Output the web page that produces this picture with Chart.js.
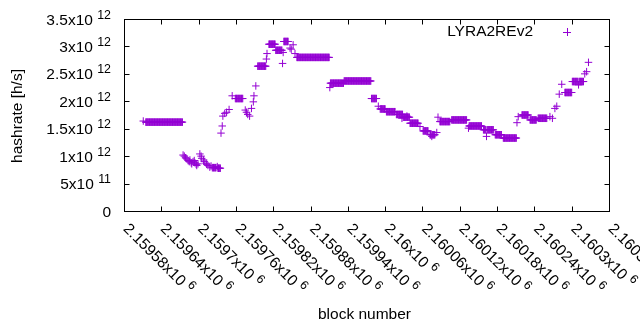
<!DOCTYPE html>
<html>
<head>
<meta charset="utf-8">
<title>LYRA2REv2 hashrate</title>
<script src="https://cdn.jsdelivr.net/npm/chart.js@4.4.1/dist/chart.umd.min.js"></script>
<style>
    html, body { margin: 0; padding: 0; background: #fff; }
    #chart { display: block; }
</style>
</head>
<body>
<canvas id="chart" width="640" height="330"></canvas>
<script>
"use strict";

// Runs of consecutive blocks that share one hashrate reading; a lone block has start == end.
const runStart = [
    2159611, 2159615,
    2159675, 2159677, 2159679, 2159681, 2159683, 2159685, 2159686, 2159688, 2159689, 2159691,
    2159693, 2159694, 2159696, 2159697, 2159699, 2159702, 2159704, 2159705, 2159708, 2159709,
    2159712, 2159713, 2159715, 2159718, 2159720, 2159722, 2159730, 2159731,
    2159736, 2159738, 2159739, 2159742, 2159745, 2159749, 2159754, 2159759,
    2159775, 2159777, 2159779, 2159782, 2159785, 2159788, 2159789, 2159792, 2159795,
    2159809, 2159810, 2159813, 2159824, 2159835, 2159836, 2159837,
    2159847, 2159849, 2159852, 2159855, 2159858,
    2159911, 2159912, 2159934,
    2159978, 2159989, 2159992, 2160002, 2160018, 2160027, 2160029, 2160035, 2160040,
    2160056, 2160061, 2160072, 2160075, 2160076, 2160083,
    2160085, 2160088, 2160107, 2160134, 2160135, 2160158, 2160163, 2160164, 2160177, 2160190,
    2160212, 2160214, 2160220, 2160233, 2160246, 2160265, 2160269,
    2160273, 2160276, 2160280, 2160284, 2160289, 2160301, 2160311, 2160312, 2160321, 2160324, 2160327
];
const runEnd = [
    2159611, 2159674,
    2159675, 2159677, 2159679, 2159681, 2159683, 2159685, 2159686, 2159688, 2159689, 2159691,
    2159693, 2159694, 2159696, 2159697, 2159699, 2159702, 2159704, 2159705, 2159708, 2159709,
    2159712, 2159713, 2159715, 2159718, 2159720, 2159728, 2159730, 2159735,
    2159736, 2159738, 2159739, 2159742, 2159745, 2159749, 2159754, 2159771,
    2159775, 2159777, 2159779, 2159782, 2159785, 2159788, 2159789, 2159792, 2159808,
    2159809, 2159810, 2159823, 2159834, 2159835, 2159836, 2159844,
    2159847, 2159849, 2159852, 2159855, 2159910,
    2159911, 2159933, 2159977,
    2159986, 2159989, 2160000, 2160016, 2160028, 2160027, 2160039, 2160035, 2160053,
    2160056, 2160069, 2160074, 2160075, 2160080, 2160083,
    2160085, 2160104, 2160131, 2160134, 2160155, 2160162, 2160163, 2160174, 2160187, 2160211,
    2160212, 2160214, 2160230, 2160243, 2160260, 2160265, 2160269,
    2160273, 2160276, 2160280, 2160284, 2160300, 2160310, 2160311, 2160319, 2160321, 2160324, 2160327
];
const runValue = [
    1.64e12, 1.62e12,
    1.02e12, 1.00e12, 0.97e12, 0.95e12, 0.92e12, 0.90e12, 0.93e12, 0.88e12, 0.86e12, 0.90e12,
    0.92e12, 0.88e12, 0.85e12, 0.83e12, 0.86e12, 1.04e12, 1.00e12, 0.96e12, 0.93e12, 0.90e12,
    0.87e12, 0.85e12, 0.83e12, 0.80e12, 0.82e12, 0.79e12, 0.81e12, 0.78e12,
    1.42e12, 1.55e12, 1.73e12, 1.78e12, 1.80e12, 1.85e12, 2.10e12, 2.05e12,
    1.84e12, 1.80e12, 1.76e12, 1.73e12, 1.87e12, 1.99e12, 2.10e12, 2.28e12, 2.64e12,
    2.77e12, 2.87e12, 3.04e12, 2.93e12, 2.69e12, 2.89e12, 3.09e12,
    2.97e12, 2.95e12, 3.03e12, 2.87e12, 2.80e12,
    2.25e12, 2.33e12, 2.37e12,
    2.05e12, 1.91e12, 1.86e12, 1.81e12, 1.76e12, 1.69e12, 1.71e12, 1.73e12, 1.60e12,
    1.54e12, 1.46e12, 1.39e12, 1.36e12, 1.39e12, 1.43e12,
    1.71e12, 1.63e12, 1.66e12, 1.51e12, 1.55e12, 1.48e12, 1.36e12, 1.48e12, 1.39e12, 1.33e12,
    1.61e12, 1.72e12, 1.75e12, 1.66e12, 1.69e12, 1.72e12, 1.69e12,
    1.87e12, 1.91e12, 2.13e12, 2.31e12, 2.16e12, 2.36e12, 2.30e12, 2.36e12, 2.50e12, 2.54e12, 2.71e12
];

const xTickValues = [
    2159580, 2159640, 2159700, 2159760, 2159820, 2159880, 2159940,
    2160000, 2160060, 2160120, 2160180, 2160240, 2160300, 2160360
];
const xTickText = [
    "2.15958x10", "2.15964x10", "2.1597x10", "2.15976x10", "2.15982x10", "2.15988x10", "2.15994x10",
    "2.16x10", "2.16006x10", "2.16012x10", "2.16018x10", "2.16024x10", "2.1603x10", "2.16036x10"
];
const xTickPower = ["6", "6", "6", "6", "6", "6", "6", "6", "6", "6", "6", "6", "6", "6"];

const yTickValues = [0, 5e11, 1e12, 1.5e12, 2e12, 2.5e12, 3e12, 3.5e12];
const yTickText = ["0", "5x10", "1x10", "1.5x10", "2x10", "2.5x10", "3x10", "3.5x10"];
const yTickPower = ["", "11", "12", "12", "12", "12", "12", "12"];

const seriesLabel = "LYRA2REv2";
const xTitle = "block number";
const yTitle = "hashrate [h/s]";

const purple = "#9400d3";
const fontFamily = "\"Liberation Sans\", Arial, sans-serif";
const fontSize = 15.5;
const powerSize = 12.4;
const tickLength = 5;

function buildPoints() {
    const points = [];
    for (let i = 0; i < runStart.length; i++) {
        for (let block = runStart[i]; block <= runEnd[i]; block++) {
            points.push({ x: block, y: runValue[i] });
        }
    }
    return points;
}

// text like "1.5x10" followed by a raised, smaller exponent
function drawPowerText(ctx, text, power, x, y, align) {
    ctx.font = fontSize + "px " + fontFamily;
    const textWidth = ctx.measureText(text).width;
    const gap = power ? ctx.measureText(" ").width : 0;
    ctx.font = powerSize + "px " + fontFamily;
    const powerWidth = power ? ctx.measureText(power).width : 0;
    const total = textWidth + gap + powerWidth;
    const startX = align === "right" ? x - total : x;

    ctx.textAlign = "left";
    ctx.textBaseline = "alphabetic";
    ctx.font = fontSize + "px " + fontFamily;
    ctx.fillText(text, startX, y);
    if (power) {
        ctx.font = powerSize + "px " + fontFamily;
        ctx.fillText(power, startX + textWidth + gap, y - 6);
    }
}

const gnuplotFrame = {
    id: "gnuplotFrame",
    afterDatasetsDraw(chart) {
        const { ctx, chartArea: area, scales } = chart;
        const left = Math.round(area.left) + 0.5;
        const right = Math.round(area.right) + 0.5;
        const top = Math.round(area.top) + 0.5;
        const bottom = Math.round(area.bottom) + 0.5;

        ctx.save();
        ctx.strokeStyle = "#000";
        ctx.lineWidth = 1;
        ctx.strokeRect(left, top, right - left, bottom - top);

        ctx.beginPath();
        for (const value of xTickValues) {
            const x = Math.round(scales.x.getPixelForValue(value)) + 0.5;
            ctx.moveTo(x, bottom);
            ctx.lineTo(x, bottom - tickLength);
            ctx.moveTo(x, top);
            ctx.lineTo(x, top + tickLength);
        }
        for (const value of yTickValues) {
            const y = Math.round(scales.y.getPixelForValue(value)) + 0.5;
            ctx.moveTo(left, y);
            ctx.lineTo(left + tickLength, y);
            ctx.moveTo(right, y);
            ctx.lineTo(right - tickLength, y);
        }
        ctx.stroke();

        ctx.fillStyle = "#000";
        yTickValues.forEach((value, i) => {
            const y = scales.y.getPixelForValue(value);
            drawPowerText(ctx, yTickText[i], yTickPower[i], area.left - 13, y + 5.5, "right");
        });

        xTickValues.forEach((value, i) => {
            const x = scales.x.getPixelForValue(value);
            ctx.save();
            ctx.translate(x - 1.5, area.bottom + 18.5);
            ctx.rotate(Math.PI / 4);
            drawPowerText(ctx, xTickText[i], xTickPower[i], 0, 0, "left");
            ctx.restore();
        });

        ctx.font = fontSize + "px " + fontFamily;
        ctx.textAlign = "center";
        ctx.textBaseline = "middle";
        ctx.fillText(xTitle, (area.left + area.right) / 2 - 2, 315);

        ctx.save();
        ctx.translate(18, (area.top + area.bottom) / 2 + 1);
        ctx.rotate(-Math.PI / 2);
        ctx.fillText(yTitle, 0, 0);
        ctx.restore();

        // key: label on the left, marker sample on the right
        ctx.textAlign = "right";
        ctx.fillText(seriesLabel, 533, 32);
        ctx.strokeStyle = purple;
        ctx.beginPath();
        ctx.moveTo(563, 32.5);
        ctx.lineTo(571, 32.5);
        ctx.moveTo(567.5, 28);
        ctx.lineTo(567.5, 36);
        ctx.stroke();

        ctx.restore();
    }
};

new Chart(document.getElementById("chart"), {
    type: "scatter",
    data: {
        datasets: [{
            label: seriesLabel,
            data: buildPoints(),
            pointStyle: "cross",
            pointRadius: 3.75,
            pointBorderWidth: 1,
            borderColor: purple,
            backgroundColor: purple
        }]
    },
    options: {
        responsive: false,
        animation: false,
        events: [],
        layout: {
            padding: { left: 124, right: 31, top: 19, bottom: 119 }
        },
        scales: {
            x: { type: "linear", display: false, min: 2159580, max: 2160360 },
            y: { type: "linear", display: false, min: 0, max: 3.5e12 }
        },
        plugins: {
            legend: { display: false },
            tooltip: { enabled: false }
        }
    },
    plugins: [gnuplotFrame]
});
</script>
</body>
</html>
